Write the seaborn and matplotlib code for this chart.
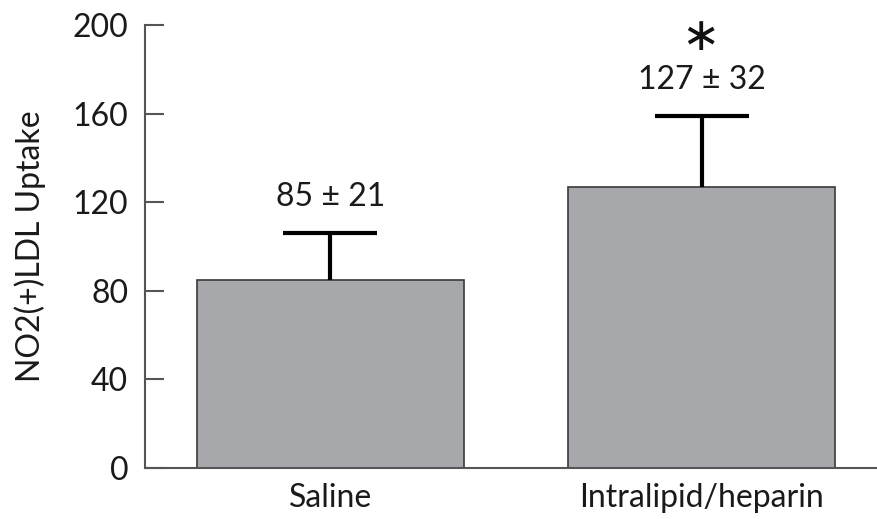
import matplotlib
matplotlib.use("Agg")
import matplotlib.pyplot as plt
import seaborn as sns
import pandas as pd

groups = ["Saline", "Intralipid/heparin"]
means = [85, 127]
sd = [21, 32]
value_labels = ["85 \u00b1 21", "127 \u00b1 32"]
significance = ["", r"$\ast$"]
y_ticks = [0, 40, 80, 120, 160, 200]

sns.set_theme(style="white")
plt.rcParams["font.family"] = ["Lato", "DejaVu Sans"]
plt.rcParams["mathtext.fontset"] = "dejavusans"

df = pd.DataFrame({"group": groups, "uptake": means})

fig = plt.figure(figsize=(8.77, 5.19), dpi=100)
ax = fig.add_axes([0.1653, 0.0983, 0.8347, 0.8535])

sns.barplot(data=df, x="group", y="uptake", color="#a7a8ab", saturation=1,
            width=0.72, edgecolor="#3a3a3a", linewidth=1.2, errorbar=None, ax=ax)

# one-sided (upper) standard deviation bars with a cap only at the top
xs = list(range(len(groups)))
tops = [m + s for m, s in zip(means, sd)]
ax.errorbar(xs, means, yerr=[[0] * len(sd), sd], fmt="none", ecolor="black",
            elinewidth=3, capsize=0, zorder=3)
ax.plot(xs, tops, linestyle="none", marker="_", markersize=67,
        markeredgewidth=3, color="black", zorder=3)

for x, top, lab, sig in zip(xs, tops, value_labels, significance):
    ax.annotate(lab, xy=(x, top), xytext=(0, 26), textcoords="offset points",
                ha="center", va="center", fontsize=23, color="#1a1a1a")
    if sig:
        ax.annotate(sig, xy=(x, top), xytext=(-2, 57), textcoords="offset points",
                    ha="center", va="center", fontsize=33, color="#111111")

ax.set_ylim(0, 200)
ax.set_xlim(-0.5, 1.473)
ax.set_yticks(y_ticks)
ax.set_yticklabels([str(t) for t in y_ticks])
ax.set_xlabel("")
ax.set_ylabel("NO2(+)LDL Uptake", fontsize=23, color="#1a1a1a", labelpad=19)

for side in ["top", "right"]:
    ax.spines[side].set_visible(False)
for side in ["left", "bottom"]:
    ax.spines[side].set_color("#555555")
    ax.spines[side].set_linewidth(1.5)

ax.tick_params(axis="y", direction="in", length=14, width=1.5, color="#555555",
               labelsize=23, labelcolor="#1a1a1a", pad=12, left=True)
ax.tick_params(axis="x", length=0, labelsize=23, labelcolor="#1a1a1a", pad=11)

fig.savefig("out.png", dpi=100)
